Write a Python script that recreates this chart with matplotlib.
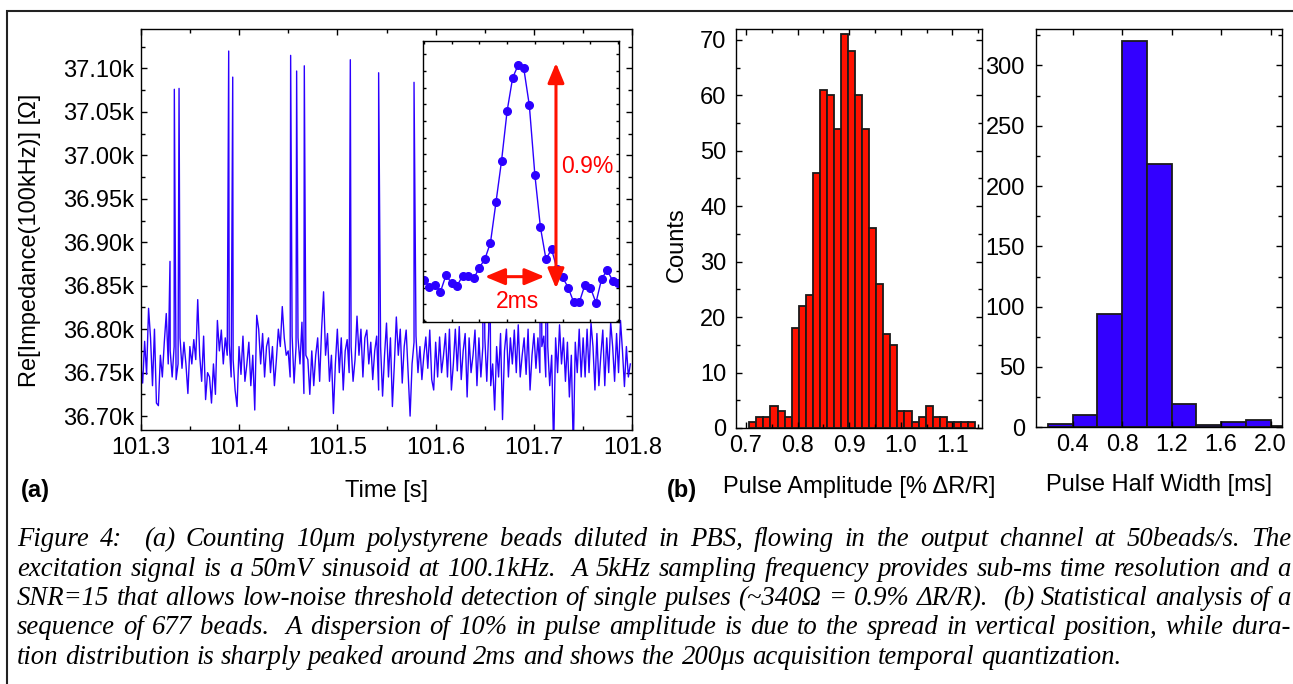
import matplotlib
matplotlib.use('Agg')
import matplotlib.pyplot as plt
import numpy as np
from matplotlib.ticker import MultipleLocator, FuncFormatter, FixedLocator
from matplotlib.patches import Rectangle

W, H = 1293, 684

# ---------------- data ----------------
trace_t0 = 101.300
trace_dt = 0.002
trace_noise = [
    36760, 36738, 36786, 36748, 36824, 36790, 36735, 36800, 36715, 36712,
    36770, 36745, 36785, 36818, 36760, 36775, 36745, 36780, 36742, 36760,
    36790, 36755, 36785, 36760, 36726, 36780, 36760, 36788, 36765, 36834,
    36770, 36740, 36792, 36719, 36750, 36745, 36715, 36760, 36725, 36810,
    36775, 36799, 36760, 36790, 36770, 36784, 36745, 36765, 36730, 36711,
    36780, 36748, 36792, 36740, 36760, 36785, 36735, 36770, 36707, 36816,
    36800, 36760, 36795, 36745, 36780, 36790, 36750, 36780, 36735, 36765,
    36800, 36780, 36826, 36790, 36770, 36775, 36745, 36792, 36738, 36780,
    36790, 36760, 36808, 36726, 36770, 36765, 36725, 36775, 36735, 36770,
    36790, 36740, 36800, 36843, 36770, 36795, 36740, 36770, 36703, 36760,
    36800, 36750, 36790, 36730, 36775, 36788, 36750, 36780, 36740, 36765,
    36815, 36770, 36800, 36745, 36790, 36799, 36760, 36785, 36742, 36775,
    36792, 36730, 36780, 36723, 36770, 36807, 36745, 36790, 36711, 36760,
    36814, 36770, 36800, 36738, 36780, 36799, 36750, 36700, 36760, 36785,
    36792, 36750, 36780, 36742, 36770, 36791, 36755, 36799, 36742, 36730,
    36785, 36745, 36791, 36750, 36770, 36795, 36745, 36800, 36730, 36760,
    36800, 36752, 36803, 36742, 36775, 36795, 36722, 36790, 36750, 36770,
    36799, 36735, 36790, 36745, 36780, 36790, 36740, 36800, 36735, 36760,
    36707, 36780, 36745, 36795, 36696, 36775, 36800, 36745, 36790, 36760,
    36799, 36750, 36805, 36745, 36770, 36790, 36748, 36800, 36730, 36770,
    36795, 36755, 36790, 36750, 36780, 36792, 36745, 36780, 36735, 36770,
    36660, 36790, 36750, 36805, 36760, 36790, 36740, 36785, 36722, 36770,
    36660, 36785, 36750, 36800, 36745, 36790, 36745, 36800, 36750, 36807,
    36780, 36730, 36795, 36735, 36770, 36799, 36735, 36790, 36750, 36808,
    36780, 36740, 36795, 36750, 36810, 36775, 36734, 36780, 36745, 36760,
]
spike_times = [101.3298, 101.3342, 101.3390, 101.3895, 101.3936, 101.4525,
               101.4586, 101.4664, 101.5132, 101.5420, 101.5780,
               101.6481, 101.6542, 101.7071, 101.7122]
spike_peaks = [36878, 37076, 37077, 37120, 37090, 37115,
               37097, 37103, 37110, 37095, 37084,
               37080, 37060, 37090, 37070]

inset_dt_ms = 0.2
inset_values = [36761.5, 36751.5, 36754, 36744, 36769, 36756.5, 36753, 36768,
                36768, 36764, 36780, 36793, 36817.5, 36878.5, 36940.5, 37015,
                37065, 37084, 37079, 37023.5, 36919, 36840.5, 36792.5, 36808,
                36777.5, 36765.5, 36750, 36728, 36728, 36754, 36750, 36727.5,
                36762.5, 36776.5, 36760.5, 36756.5]

amp_bin_start = 0.7064
amp_bin_width = 0.01367
amp_counts = [1, 2, 2, 4, 3, 2, 18, 22, 24, 46, 61, 60, 54, 71, 68, 60,
              54, 36, 26, 17, 15, 3, 3, 1, 2, 4, 2, 2, 1, 1, 1, 1]

hw_bin_start = 0.2
hw_bin_width = 0.2
hw_counts = [3, 10, 94, 320, 218, 19, 2, 4, 6, 1]

caption_lines = [
    "Figure 4:  (a) Counting 10\u03bcm polystyrene beads diluted in PBS, flowing in the output channel at 50beads/s. The",
    "excitation signal is a 50mV sinusoid at 100.1kHz.  A 5kHz sampling frequency provides sub-ms time resolution and a",
    "SNR=15 that allows low-noise threshold detection of single pulses (~340\u03a9 = 0.9% \u0394R/R).  (b) Statistical analysis of a",
    "sequence of 677 beads.  A dispersion of 10% in pulse amplitude is due to the spread in vertical position, while dura-",
    "tion distribution is sharply peaked around 2ms and shows the 200\u03bcs acquisition temporal quantization.",
]

# ---------------- style ----------------
plt.rcParams['font.family'] = ['Liberation Sans', 'DejaVu Sans']
plt.rcParams['font.size'] = 17
plt.rcParams['axes.linewidth'] = 1.0

BLUE = '#2B00FF'
BAR_BLUE = '#3300FF'
RED = '#FF1100'

fig = plt.figure(figsize=(W / 100, H / 100), dpi=100)


def ax_rect(l, r, t, b):
    return [l / W, 1 - b / H, (r - l) / W, (b - t) / H]


def style_ticks(ax, maj=4.5, mnr=2.6, xpad=5, ypad=5):
    ax.tick_params(which='both', direction='in', top=True, right=True)
    ax.tick_params(which='major', length=maj, width=1.0)
    ax.tick_params(which='minor', length=mnr, width=1.0)
    ax.tick_params(axis='x', pad=xpad)
    ax.tick_params(axis='y', pad=ypad)


# outer frame
fig.patches.append(Rectangle((6.7 / W, -0.2), 1.2, 1.2 - 11 / H,
                             transform=fig.transFigure, fill=False,
                             lw=1.5, edgecolor='#222222'))

# ---------------- (a) main trace ----------------
ax = fig.add_axes(ax_rect(140.7, 632.3, 29.3, 430))
t_noise = trace_t0 + trace_dt * np.arange(len(trace_noise))
t_all = np.concatenate([t_noise, np.array(spike_times)])
v_all = np.concatenate([np.array(trace_noise, float), np.array(spike_peaks, float)])
order = np.argsort(t_all)
ax.plot(t_all[order], v_all[order], color=BLUE, lw=1.0)
ax.set_xlim(101.3, 101.8)
ax.set_ylim(36684, 37145)
ax.xaxis.set_major_locator(MultipleLocator(0.1))
ax.xaxis.set_minor_locator(MultipleLocator(0.05))
ax.xaxis.set_major_formatter(FuncFormatter(lambda v, p: f'{v:.1f}'))
ax.yaxis.set_major_locator(MultipleLocator(50))
ax.yaxis.set_minor_locator(MultipleLocator(25))
ax.yaxis.set_major_formatter(FuncFormatter(lambda v, p: f'{v/1000:.2f}k'))
style_ticks(ax, xpad=5, ypad=5)

# inset
axi = fig.add_axes(ax_rect(423, 619, 41, 322))
ti = inset_dt_ms * np.arange(len(inset_values))
axi.plot(ti, inset_values, color=BLUE, lw=1.0, marker='o', ms=5.5,
         mfc=BLUE, mec=BLUE)
axi.set_xlim(-0.03, 7.03)
axi.set_ylim(36698.5, 37120)
axi.xaxis.set_major_locator(MultipleLocator(1))
axi.yaxis.set_major_locator(MultipleLocator(25))
axi.tick_params(which='both', direction='in', top=True, right=True,
                length=2.5, width=1.0, labelbottom=False, labelleft=False)
arrow_kw = dict(arrowstyle='<|-|>,head_length=0.6,head_width=0.25',
                color=RED, lw=2.2, mutation_scale=20, shrinkA=0, shrinkB=0)
axi.annotate('', xy=(4.76, 36749), xytext=(4.76, 37087), arrowprops=arrow_kw)
axi.annotate('', xy=(2.2, 36766.5), xytext=(4.35, 36766.5), arrowprops=arrow_kw)
axi.text(5.89, 36931, '0.9%', color='#FF0000', fontsize=16.5, ha='center', va='center')
axi.text(3.36, 36729, '2ms', color='#FF0000', fontsize=16.5, ha='center', va='center')

# ---------------- (b) histograms ----------------
axr = fig.add_axes(ax_rect(736, 982, 29.3, 428))
amp_left = amp_bin_start + amp_bin_width * np.arange(len(amp_counts))
axr.bar(amp_left, amp_counts, width=amp_bin_width, align='edge',
        color=RED, edgecolor='#1a1a1a', lw=1.3)
axr.set_xlim(0.6806, 1.1574)
axr.set_ylim(0, 71.9)
axr.xaxis.set_major_locator(FixedLocator([0.7, 0.8, 0.9, 1.0, 1.1]))
axr.xaxis.set_minor_locator(MultipleLocator(0.05))
axr.xaxis.set_major_formatter(FuncFormatter(lambda v, p: f'{v:.1f}'))
axr.yaxis.set_major_locator(MultipleLocator(10))
axr.yaxis.set_minor_locator(MultipleLocator(5))
style_ticks(axr, xpad=5, ypad=7)

axb = fig.add_axes(ax_rect(1036, 1281.7, 29.3, 427.3))
hw_left = hw_bin_start + hw_bin_width * np.arange(len(hw_counts))
axb.bar(hw_left, hw_counts, width=hw_bin_width, align='edge',
        color=BAR_BLUE, edgecolor='#1a1a1a', lw=1.3)
axb.set_xlim(0.104, 2.09)
axb.set_ylim(0, 330)
axb.xaxis.set_major_locator(FixedLocator([0.4, 0.8, 1.2, 1.6, 2.0]))
axb.xaxis.set_major_formatter(FuncFormatter(lambda v, p: f'{v:.1f}'))
axb.yaxis.set_major_locator(MultipleLocator(50))
axb.yaxis.set_minor_locator(MultipleLocator(25))
style_ticks(axb, xpad=5, ypad=8)

# ---------------- labels ----------------
def ftext(x, y, s, **kw):
    return fig.text(x / W, 1 - y / H, s, **kw)

ftext(30, 240, 'Re[Impedance(100kHz)] [\u03a9]', rotation=90, ha='center', va='center')
ftext(386.5, 491, 'Time [s]', ha='center', va='center')
ftext(35, 490, '(a)', ha='center', va='center', fontweight='bold')
ftext(682, 491, '(b)', ha='center', va='center', fontweight='bold')
ftext(677, 245, 'Counts', rotation=90, ha='center', va='center')
ftext(859, 487, 'Pulse Amplitude [% \u0394R/R]', ha='center', va='center')
ftext(1159, 485, 'Pulse Half Width [ms]', ha='center', va='center')

# ---------------- caption (justified) ----------------
renderer = fig.canvas.get_renderer()
cap_kw = dict(family=['Liberation Serif', 'DejaVu Serif'], style='italic')


def measure(s, size):
    t = fig.text(0, 0, s, fontsize=size, **cap_kw)
    w = t.get_window_extent(renderer).width
    t.remove()
    return w

probe = 10
cap_size = probe * 1112 / measure(caption_lines[-1], probe)
space_w = measure('a a', cap_size) - measure('aa', cap_size)

x0, x1 = 17, 1291
base_y = [546, 575.5, 605, 634.5, 664]
for i, line in enumerate(caption_lines):
    toks = line.split(' ')
    items, gaps, g = [], [], 1
    for tok in toks:
        if tok == '':
            g += 1
            continue
        if items:
            gaps.append(g)
        items.append(tok)
        g = 1
    widths = [measure(it, cap_size) for it in items]
    if i < len(caption_lines) - 1:
        unit = (x1 - x0 - sum(widths)) / max(sum(gaps), 1)
    else:
        unit = space_w
    x = x0
    for j, it in enumerate(items):
        fig.text(x / W, 1 - base_y[i] / H, it, fontsize=cap_size, ha='left',
                 va='baseline', **cap_kw)
        x += widths[j] + (unit * gaps[j] if j < len(gaps) else 0)

fig.savefig('out.png', dpi=100)
